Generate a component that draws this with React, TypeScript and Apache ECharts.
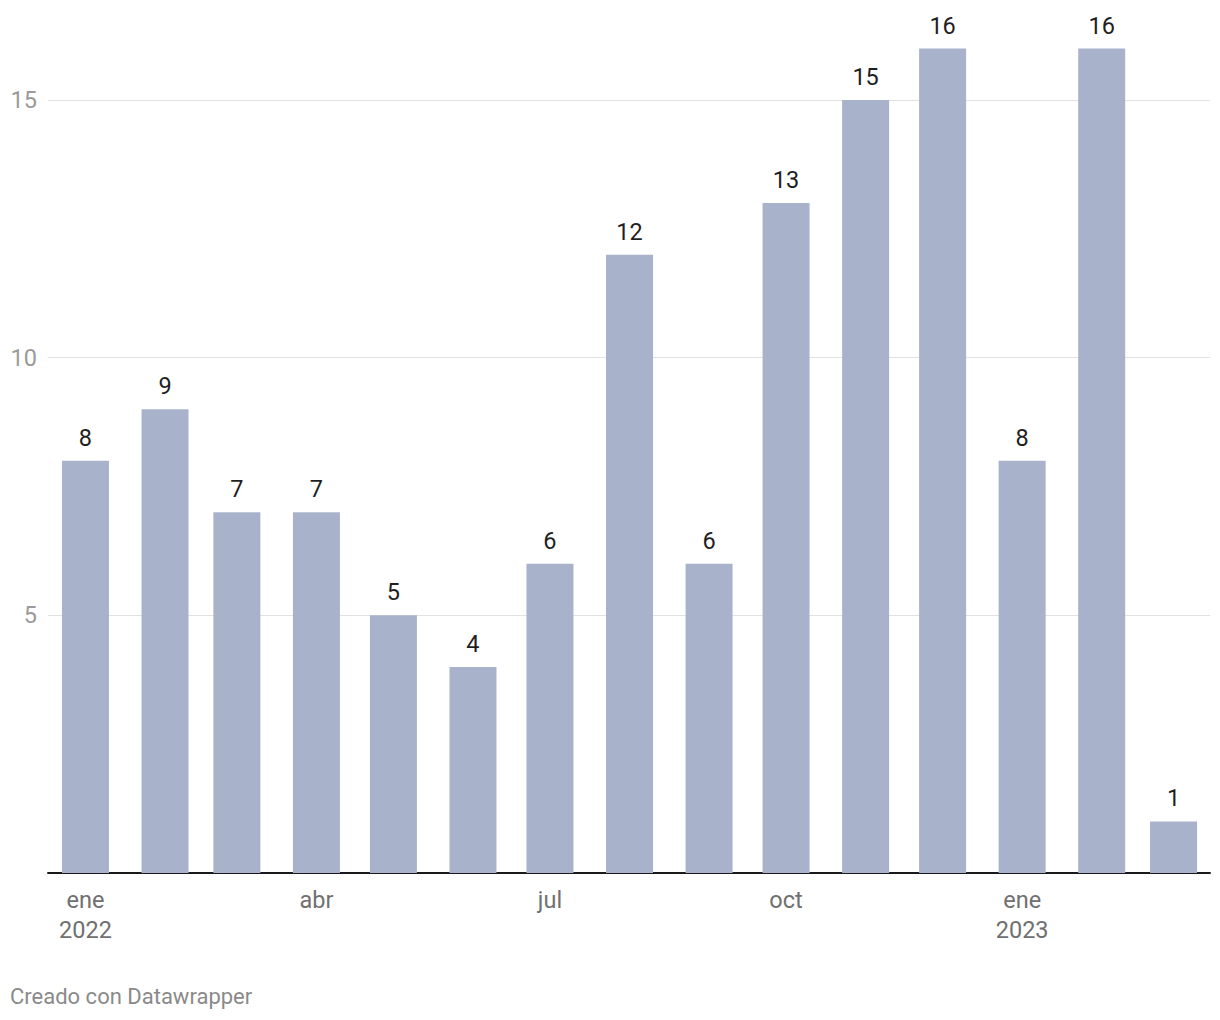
import React, { useEffect, useRef } from "react";
import * as echarts from "echarts";

const months = [
  "2022-01", "2022-02", "2022-03", "2022-04", "2022-05", "2022-06", "2022-07", "2022-08",
  "2022-09", "2022-10", "2022-11", "2022-12", "2023-01", "2023-02", "2023-03",
];
const values = [8, 9, 7, 7, 5, 4, 6, 12, 6, 13, 15, 16, 8, 16, 1];
const tickMonths = ["2022-01", "2022-04", "2022-07", "2022-10", "2023-01"];
const tickLabels = ["ene\n2022", "abr", "jul", "oct", "ene\n2023"];
const yTicks = [5, 10, 15];

const FONT = "Roboto, 'Noto Sans', sans-serif";

function dayOf(m: string): number {
  const [y, mo] = m.split("-").map(Number);
  return (Date.UTC(y, mo - 1, 1) - Date.UTC(2022, 0, 1)) / 86400000;
}

export default function App() {
  const ref = useRef<HTMLDivElement>(null);
  useEffect(() => {
    if (!ref.current) return;
    const chart = echarts.init(ref.current, undefined, { renderer: "svg" });
    const days = months.map(dayOf);
    const tickDays = tickMonths.map(dayOf);
    const labelMap = new Map<number, string>();
    tickDays.forEach((d, i) => labelMap.set(d, tickLabels[i]));
    chart.setOption({
      animation: false,
      grid: { left: 48, right: 10, top: 48.5, bottom: 147 },
      textStyle: { fontFamily: FONT },
      xAxis: {
        type: "value",
        min: -14.6,
        max: 438.2,
        axisLine: { show: true, lineStyle: { color: "#1a1a1a", width: 2 } },
        axisTick: { show: false },
        splitLine: { show: false },
        axisLabel: {
          customValues: tickDays,
          formatter: (v: number) => labelMap.get(v) ?? "",
          color: "#707070",
          fontSize: 23.5,
          lineHeight: 30,
          margin: 12,
          fontFamily: FONT,
        },
      },
      yAxis: {
        type: "value",
        min: 0,
        max: 16,
        interval: 5,
        axisLine: { show: false },
        axisTick: { show: false },
        axisLabel: {
          showMinLabel: false,
          showMaxLabel: false,
          formatter: (v: number) => (yTicks.includes(v) ? String(v) : ""),
          color: "#9a9a9a",
          fontSize: 23.5,
          margin: 11,
          fontFamily: FONT,
        },
        splitLine: {
          show: true,
          lineStyle: {
            color: ["rgba(0,0,0,0)", "#e2e2e2", "#e2e2e2", "#e2e2e2", "rgba(0,0,0,0)"],
            width: 1,
          },
        },
      },
      series: [
        {
          type: "bar",
          data: values.map((v, i) => [days[i], v]),
          barWidth: 47,
          itemStyle: { color: "#a8b3cb" },
          label: {
            show: true,
            position: "top",
            distance: 11,
            color: "#1f1f1f",
            fontSize: 23.5,
            fontFamily: FONT,
          },
        },
      ],
      graphic: [
        {
          type: "text",
          left: 10,
          top: 985,
          style: {
            text: "Creado con Datawrapper",
            fill: "#8a8a8a",
            fontSize: 22,
            fontFamily: FONT,
          },
        },
      ],
    });
    return () => chart.dispose();
  }, []);
  return (
    <div
      ref={ref}
      style={{ position: "fixed", left: 0, top: 0, width: 1220, height: 1020, background: "#fff" }}
    />
  );
}
